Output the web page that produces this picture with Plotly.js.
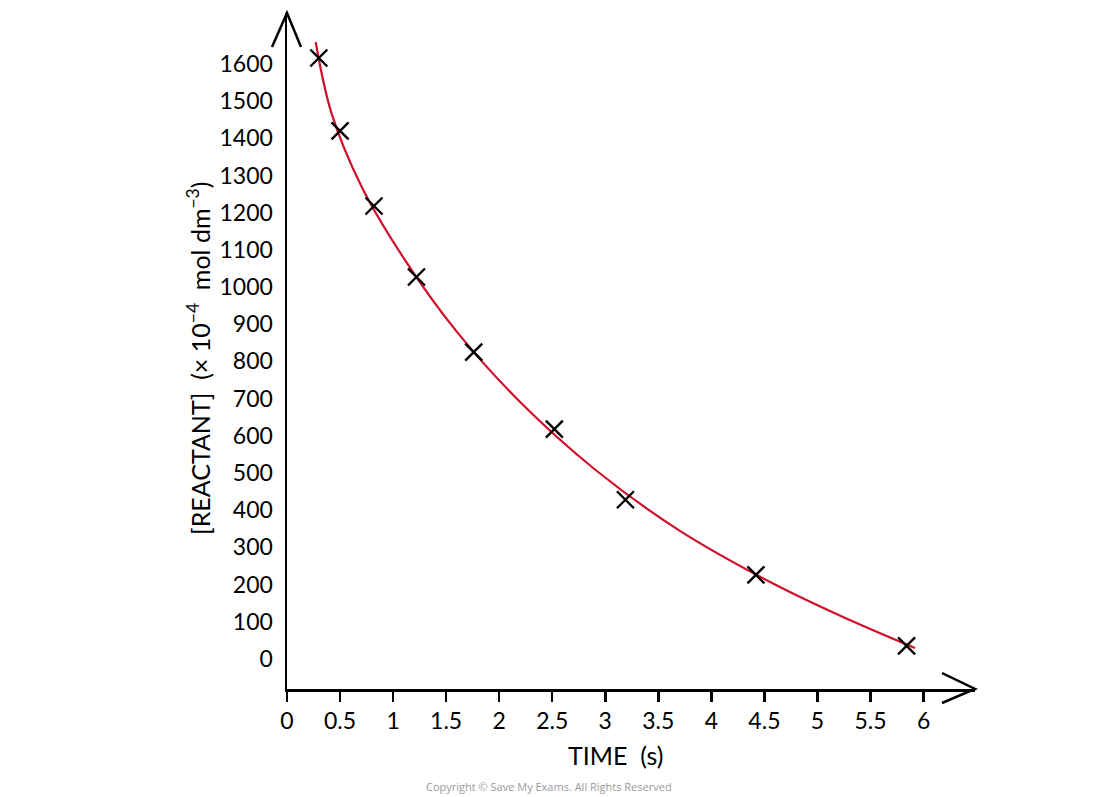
<!DOCTYPE html>
<html>
<head>
<meta charset="utf-8">
<script src="https://cdn.plot.ly/plotly-3.0.1.min.js"></script>
<style>
  html, body { margin: 0; padding: 0; background: #fff; }
  #chart { width: 1100px; height: 797px; }
</style>
</head>
<body>
<div id="chart"></div>
<script>
// Measured points (time in s, [reactant] ×10^-4 mol dm^-3)
const timePoints = [0.30, 0.50, 0.82, 1.22, 1.76, 2.52, 3.19, 4.42, 5.84];
const concPoints = [1616, 1420, 1218, 1027, 825, 618, 428, 226, 35];

// Hand-drawn curve of best fit, read along its length
const curveTime = [0.27, 0.42, 0.70, 1.10, 1.60, 2.20, 2.90, 3.70, 4.60, 5.30, 5.92];
const curveConc = [1659, 1467, 1272, 1078, 880, 690, 510, 345, 200, 105, 29];

const xTickVals = [0, 0.5, 1, 1.5, 2, 2.5, 3, 3.5, 4, 4.5, 5, 5.5, 6];
const xTickText = ['0', '0.5', '1', '1.5', '2', '2.5', '3', '3.5', '4', '4.5', '5', '5.5', '6'];
const yTickVals = [0, 100, 200, 300, 400, 500, 600, 700, 800, 900, 1000, 1100, 1200, 1300, 1400, 1500, 1600];
const yTickText = ['0', '100', '200', '300', '400', '500', '600', '700', '800', '900', '1000', '1100', '1200', '1300', '1400', '1500', '1600'];

const xTitle = 'TIME  (s)';
const yTitle = '[REACTANT]  (× 10<sup>−4</sup>  mol dm<sup>−3</sup>)';
const copyright = 'Copyright © Save My Exams. All Rights Reserved';

const FONT = 'Lato, "Open Sans", "DejaVu Sans", sans-serif';
const plotW = 688, plotH = 676;

const traces = [
  {
    x: curveTime, y: curveConc, type: 'scatter', mode: 'lines',
    line: { color: '#d0102a', width: 2.2, shape: 'spline', smoothing: 1 },
    hoverinfo: 'skip', cliponaxis: false
  },
  {
    x: timePoints, y: concPoints, type: 'scatter', mode: 'markers',
    marker: { symbol: 'x-thin-open', size: 17, color: '#000', line: { color: '#000', width: 2.4 } },
    cliponaxis: false
  }
];

const arrowLine = { color: '#000', width: 2.5 };
const shapes = [
  { type: 'path', xref: 'paper', yref: 'paper',
    path: `M ${-15/plotW} ${1-34/plotH} L 0 1 L ${14/plotW} ${1-34/plotH}`,
    line: arrowLine },
  { type: 'path', xref: 'paper', yref: 'paper',
    path: `M ${1-33/plotW} ${16/plotH} L 1 0 L ${1-33/plotW} ${-14/plotH}`,
    line: arrowLine }
];

const layout = {
  width: 1100, height: 797,
  margin: { l: 287, r: 125, t: 13, b: 108 },
  paper_bgcolor: '#fff', plot_bgcolor: '#fff',
  showlegend: false,
  font: { family: FONT, color: '#000' },
  xaxis: {
    range: [0, 6.485], showgrid: false, zeroline: false,
    showline: true, linecolor: '#000', linewidth: 2.5,
    tickvals: xTickVals, ticktext: xTickText,
    ticks: 'outside', ticklen: 10, tickwidth: 2.5, tickcolor: '#000',
    tickfont: { family: FONT, size: 23, color: '#000' },
    ticklabelstandoff: 0
  },
  yaxis: {
    range: [-81, 1737], showgrid: false, zeroline: false,
    showline: true, linecolor: '#000', linewidth: 2.5,
    tickvals: yTickVals, ticktext: yTickText,
    ticks: 'outside', ticklen: 7, tickcolor: 'rgba(0,0,0,0)',
    tickfont: { family: FONT, size: 23, color: '#000' }
  },
  shapes: shapes,
  annotations: [
    { text: xTitle, xref: 'x', yref: 'paper', x: 3.1, y: 0, yshift: -66,
      xanchor: 'center', yanchor: 'middle', showarrow: false,
      font: { family: FONT, size: 25, color: '#000' } },
    { text: yTitle, xref: 'paper', yref: 'paper', x: 0, xshift: -89, y: 0.5, yshift: -8,
      textangle: -90, xanchor: 'center', yanchor: 'middle', showarrow: false,
      font: { family: FONT, size: 25, color: '#000' } },
    { text: copyright, xref: 'paper', yref: 'paper', x: 0, xshift: 262, y: 0, yshift: -97,
      xanchor: 'center', yanchor: 'middle', showarrow: false,
      font: { family: '"Open Sans", sans-serif', size: 11, color: '#9a9a9a' } }
  ]
};

Plotly.newPlot('chart', traces, layout, { displayModeBar: false, staticPlot: true });
</script>
</body>
</html>
